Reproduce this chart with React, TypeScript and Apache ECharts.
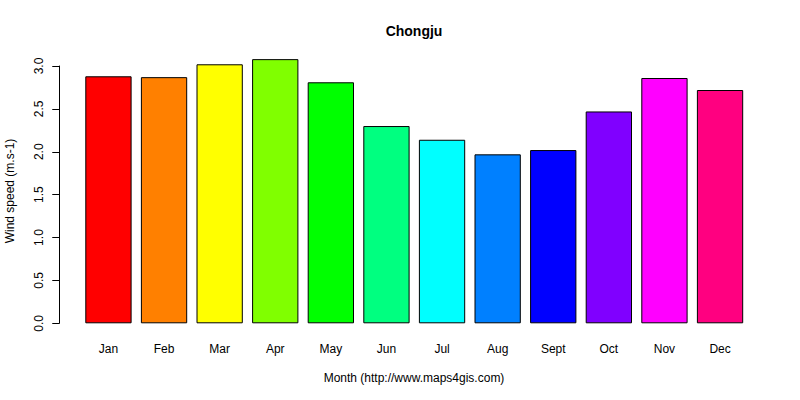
import React, { useEffect, useRef } from "react";
import * as echarts from "echarts";

const months = ["Jan", "Feb", "Mar", "Apr", "May", "Jun", "Jul", "Aug", "Sept", "Oct", "Nov", "Dec"];
const windSpeed = [2.88, 2.87, 3.02, 3.08, 2.81, 2.3, 2.14, 1.97, 2.02, 2.47, 2.86, 2.72];
const barColors = [
  "#FF0000", "#FF8000", "#FFFF00", "#80FF00", "#00FF00", "#00FF80",
  "#00FFFF", "#0080FF", "#0000FF", "#8000FF", "#FF00FF", "#FF0080",
];
const yTicks = [0, 0.5, 1.0, 1.5, 2.0, 2.5, 3.0];
const titleText = "Chongju";
const xTitle = "Month (http://www.maps4gis.com)";
const yTitle = "Wind speed (m.s-1)";

const FONT = "'Liberation Sans', Arial, sans-serif";

export default function App() {
  const ref = useRef<HTMLDivElement>(null);
  useEffect(() => {
    if (!ref.current) return;
    const chart = echarts.init(ref.current, undefined, { renderer: "svg" });
    chart.setOption({
      animation: false,
      backgroundColor: "#ffffff",
      textStyle: { fontFamily: FONT },
      grid: { left: 80.65, right: 52.15, top: 66, bottom: 76.7 },
      xAxis: {
        type: "category",
        data: months,
        axisLine: { show: false },
        axisTick: { show: false },
        axisLabel: { color: "#000", fontSize: 12, fontFamily: FONT, margin: 20, interval: 0 },
        splitLine: { show: false },
      },
      yAxis: {
        type: "value",
        min: 0,
        max: yTicks[yTicks.length - 1],
        interval: 0.5,
        offset: 21.4,
        axisLine: { show: true, lineStyle: { color: "#000", width: 1 } },
        axisTick: { show: true, length: 7, lineStyle: { color: "#000", width: 1 } },
        axisLabel: {
          color: "#000",
          fontSize: 12,
          fontFamily: FONT,
          rotate: 90,
          margin: 14,
          formatter: (v: number) => v.toFixed(1),
        },
        splitLine: { show: false },
      },
      series: [
        {
          type: "bar",
          clip: false,
          barWidth: 46.3,
          data: windSpeed.map((v, i) => ({
            value: v,
            itemStyle: { color: barColors[i], borderColor: "#000", borderWidth: 1 },
          })),
        },
      ],
      graphic: [
        {
          type: "text",
          x: 414,
          y: 31,
          style: {
            text: titleText,
            font: `bold 14px ${FONT}`,
            fill: "#000",
            align: "center",
            verticalAlign: "middle",
          },
        },
        {
          type: "text",
          x: 414,
          y: 378,
          style: {
            text: xTitle,
            font: `12px ${FONT}`,
            fill: "#000",
            align: "center",
            verticalAlign: "middle",
          },
        },
        {
          type: "text",
          x: 10,
          y: 191,
          rotation: Math.PI / 2,
          style: {
            text: yTitle,
            font: `12px ${FONT}`,
            fill: "#000",
            align: "center",
            verticalAlign: "middle",
          },
        },
      ],
    });
    return () => chart.dispose();
  }, []);
  return (
    <div
      ref={ref}
      style={{ position: "fixed", left: 0, top: 0, width: 800, height: 400, background: "#fff" }}
    />
  );
}
